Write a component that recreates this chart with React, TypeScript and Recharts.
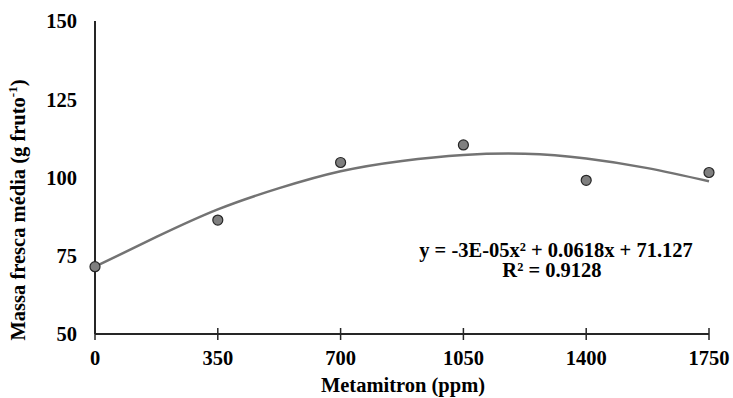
import { ComposedChart, Line, Scatter, XAxis, YAxis } from 'recharts'

const doses = [0, 350, 700, 1050, 1400, 1750]
const massaMedia = [71.5, 86.4, 104.8, 110.4, 99.1, 101.6]

// trendline
const trendX = [0, 175, 350, 525, 700, 875, 1050, 1225, 1400, 1575, 1750]
const trendY = [71.5, 81.0, 89.8, 96.6, 102.0, 105.3, 107.2, 107.6, 106.1, 103.0, 98.8]

const yTicks = [50, 75, 100, 125, 150]
const equation = 'y = -3E-05x² + 0.0618x + 71.127'
const rSquared = 'R² = 0.9128'

const FONT = '"Liberation Serif", "Times New Roman", serif'
const FS = 20.5
const AXIS = '#262626'

const points = doses.map((x, i) => ({ x, y: massaMedia[i] }))
const trend = trendX.map((x, i) => ({ x, y: trendY[i] }))

function XTick({ x, y, payload }: any) {
  // axis sits tickSize + tickMargin above the label
  const axisY = y - 16
  return (
    <g>
      <line x1={x} x2={x} y1={axisY - 6} y2={axisY} stroke={AXIS} strokeWidth={1.5} />
      <text x={x} y={y} dy="0.71em" textAnchor="middle" fontFamily={FONT} fontSize={FS} fontWeight="bold" fill="#000">
        {payload.value}
      </text>
    </g>
  )
}

function Dot(props: any) {
  return <circle cx={props.cx} cy={props.cy} r={5} fill="#7f7f7f" stroke={AXIS} strokeWidth={1.2} />
}

export default function App() {
  return (
    <div style={{ position: 'absolute', left: 0, top: 0, width: 733, height: 398, background: '#fff' }}>
      <ComposedChart width={733} height={398} margin={{ top: 21, right: 24, bottom: 0, left: 0 }}>
        <XAxis
          type="number"
          dataKey="x"
          domain={[0, 1750]}
          ticks={doses}
          interval={0}
          height={64}
          axisLine={{ stroke: AXIS, strokeWidth: 2 }}
          tickLine={{ stroke: AXIS, strokeWidth: 1.5 }}
          tickSize={6}
          tickMargin={10}
          tick={<XTick />}
        />
        <YAxis
          type="number"
          dataKey="y"
          domain={[50, 150]}
          ticks={yTicks}
          interval={0}
          width={95}
          axisLine={{ stroke: AXIS, strokeWidth: 2 }}
          tickLine={false}
          tickSize={0}
          tickMargin={18}
          tick={{ fontFamily: FONT, fontSize: FS, fontWeight: 'bold', fill: '#000' }}
        />
        <Line
          data={trend}
          dataKey="y"
          type="natural"
          stroke="#737373"
          strokeWidth={2.5}
          dot={false}
          activeDot={false}
          isAnimationActive={false}
        />
        <Scatter data={points} dataKey="y" shape={<Dot />} isAnimationActive={false} />
      </ComposedChart>
      <svg
        width={733}
        height={398}
        style={{ position: 'absolute', left: 0, top: 0, pointerEvents: 'none' }}
        fontFamily={FONT}
        fontWeight="bold"
        fontSize={FS}
        fill="#000"
      >
        <text transform="translate(25,210) rotate(-90)" textAnchor="middle">
          Massa fresca média (g fruto
          <tspan dy={-8} fontSize={13}>-1</tspan>
          <tspan dy={8}>)</tspan>
        </text>
        <text x={403} y={392} textAnchor="middle">Metamitron (ppm)</text>
        <text x={556} y={257} textAnchor="middle">{equation}</text>
        <text x={552} y={277} textAnchor="middle">{rSquared}</text>
      </svg>
    </div>
  )
}
